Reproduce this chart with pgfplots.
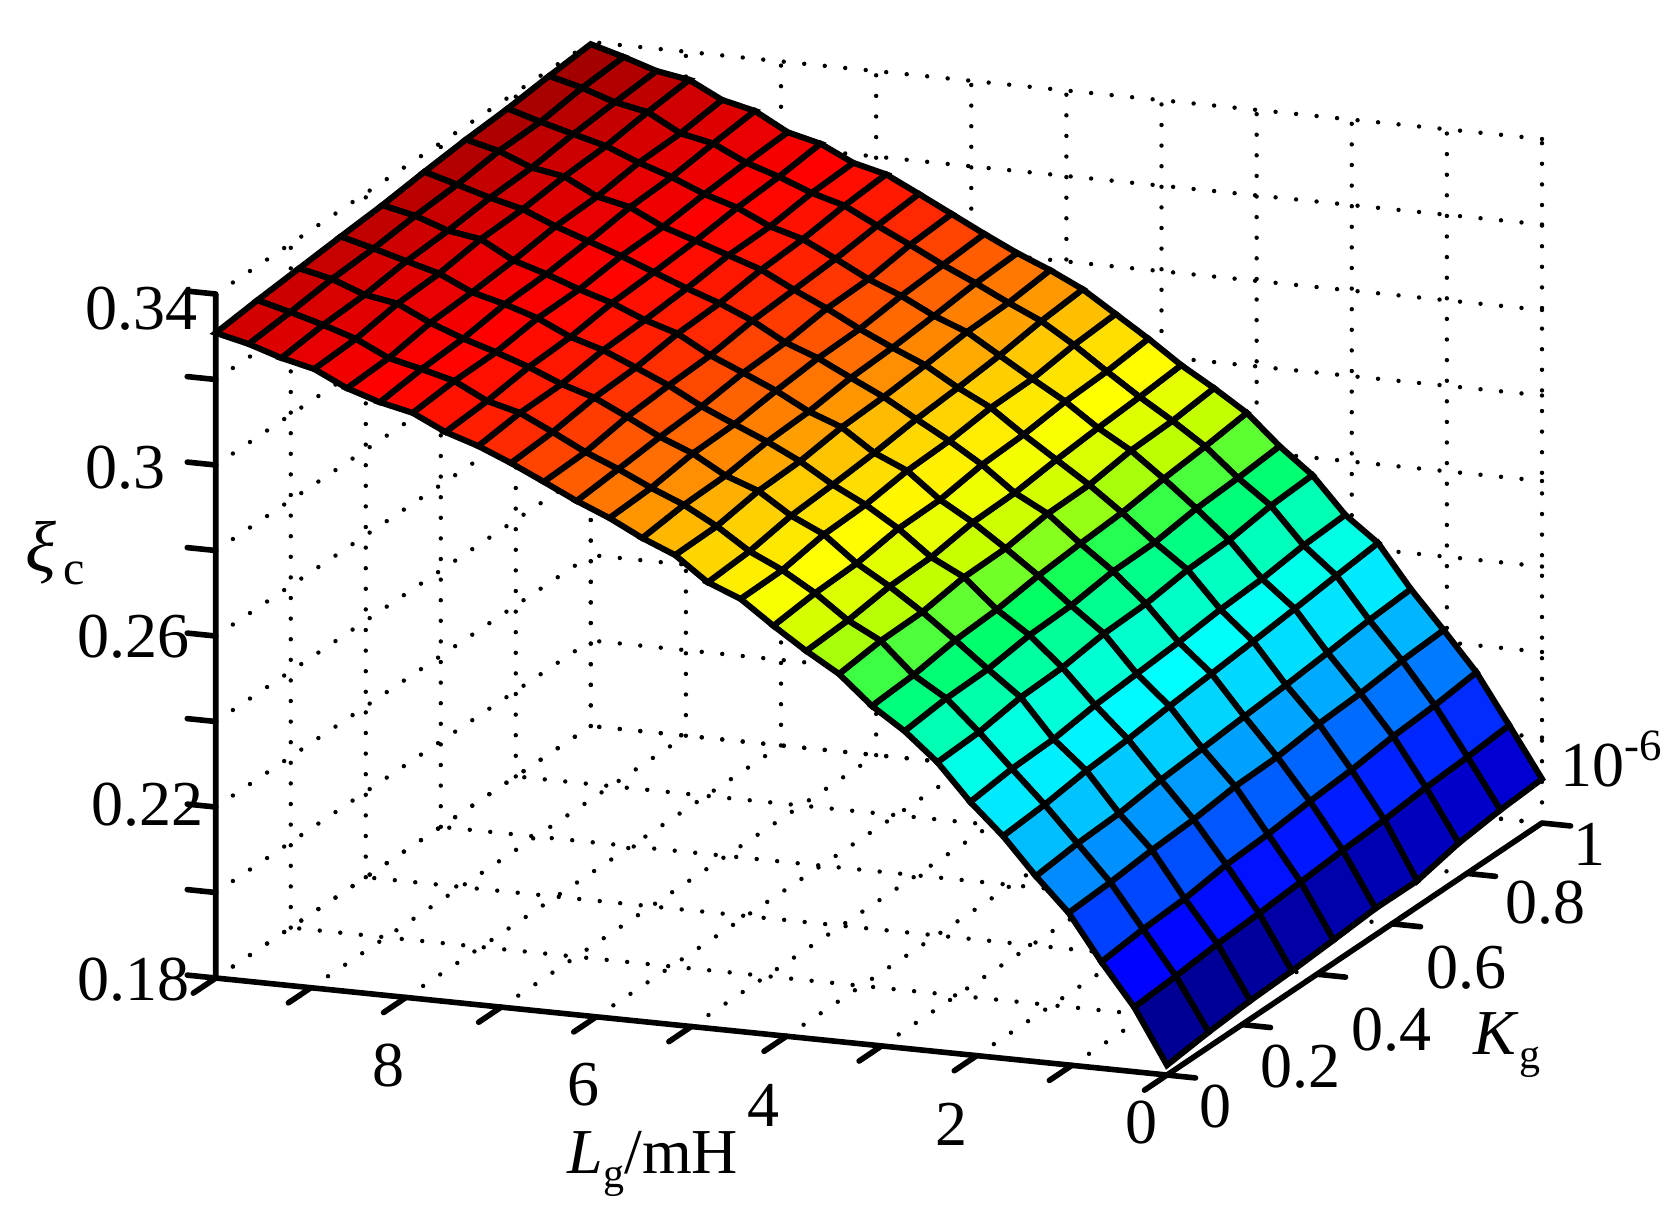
\documentclass[border=0pt]{standalone}
\usepackage{fontspec}
\setmainfont{Liberation Serif}
\usepackage{pgfplots}
\pgfplotsset{compat=1.18}
\usetikzlibrary{calc}
\newcommand{\tl}[3]{\makebox[0pt]{\hspace{\dimexpr 2\dimexpr #1pt\relax\relax}\raisebox{#2pt}{#3}}}
\begin{document}
\begin{tikzpicture}
\begin{axis}[
  x={(23.78pt,-2.425pt)}, y={(93.75pt,63pt)}, z={(0pt,1068.75pt)},
  x dir=reverse,
  xmin=0,xmax=10,ymin=0,ymax=1,zmin=0.18,zmax=0.34,
  clip=false,
  axis line style={draw=none},
  xtick={0,1,...,10},
  xticklabels={\tl{-6.4}{-11.8}{0},,\tl{-6.4}{-17.1}{2},,\tl{-5.7}{-17.2}{4},,\tl{-3.3}{-16.8}{6},,\tl{-4.3}{-16.9}{8},,},
  ytick={0,0.2,0.4,0.6,0.8,1},
  yticklabels={\tl{12.1}{-7.8}{0},\tl{14.7}{-10.2}{0.2},\tl{18.5}{-13.7}{0.4},\tl{18.5}{-10.8}{0.6},\tl{19.5}{-7.2}{0.8},\tl{11.8}{-5.1}{1}},
  ztick={0.18,0.20,0.22,0.24,0.26,0.28,0.30,0.32,0.34},
  zticklabels={\tl{-20.6}{-0.2}{0.18},,\tl{-17.1}{0.8}{0.22},,\tl{-20.6}{0}{0.26},,\tl{-22.5}{-0.5}{0.3},,\tl{-18.6}{-3.5}{0.34}},
  scaled ticks=false,
  tick pos=left,
  major tick length=0pt,
  tick style={draw=none},
  tick label style={font=\fontsize{16}{18}\selectfont,anchor=center,text height=10.8pt,text depth=0pt,inner sep=0pt},
  grid=major,
  major grid style={black,line width=1.1pt,line cap=round,dash pattern=on 0pt off 5.15pt},
  colormap={matjet}{rgb255=(0,0,130) rgb255=(0,0,150) rgb255=(0,0,255) rgb255=(0,60,255) rgb255=(0,140,255) rgb255=(0,200,255) rgb255=(0,255,255) rgb255=(0,255,190) rgb255=(0,255,100) rgb255=(190,255,0) rgb255=(255,255,0) rgb255=(255,200,0) rgb255=(255,110,0) rgb255=(255,40,0) rgb255=(255,0,0) rgb255=(215,0,0) rgb255=(150,0,0)},
  point meta min=0.18, point meta max=0.34,
  xlabel={\textit{L}\raisebox{-0.22em}{\fontsize{10.5}{12}\selectfont g}/mH},
  ylabel={\textit{K}\raisebox{-0.22em}{\fontsize{10.5}{12}\selectfont g}},
  label style={font=\fontsize{16}{18}\selectfont,rotate=0,anchor=center},
  xlabel style={at={(axis cs:0,0,0.18)},xshift=-128.5pt,yshift=-22.25pt},
  ylabel style={at={(axis cs:0,0,0.18)},xshift=85pt,yshift=7.5pt},
]
\addplot3[
  surf, shader=faceted, faceted color=black, line width=1.5pt, z buffer=sort, mesh/ordering=y varies,
] coordinates {
(10.000,0.000,.3309)(10.000,0.111,.3320)(10.000,0.222,.3329)(10.000,0.333,.3338)(10.000,0.444,.3346)(10.000,0.556,.3358)(10.000,0.667,.3368)(10.000,0.778,.3375)(10.000,0.889,.3386)(10.000,1.000,.3395)

(9.655,0.000,.3291)(9.655,0.111,.3300)(9.655,0.222,.3312)(9.655,0.333,.3318)(9.655,0.444,.3329)(9.655,0.556,.3336)(9.655,0.667,.3349)(9.655,0.778,.3352)(9.655,0.889,.3366)(9.655,1.000,.3373)

(9.310,0.000,.3266)(9.310,0.111,.3278)(9.310,0.222,.3283)(9.310,0.333,.3296)(9.310,0.444,.3302)(9.310,0.556,.3313)(9.310,0.667,.3318)(9.310,0.778,.3331)(9.310,0.889,.3340)(9.310,1.000,.3348)

(8.966,0.000,.3248)(8.966,0.111,.3253)(8.966,0.222,.3270)(8.966,0.333,.3275)(8.966,0.444,.3290)(8.966,0.556,.3294)(8.966,0.667,.3305)(8.966,0.778,.3311)(8.966,0.889,.3325)(8.966,1.000,.3335)

(8.621,0.000,.3211)(8.621,0.111,.3216)(8.621,0.222,.3233)(8.621,0.333,.3239)(8.621,0.444,.3248)(8.621,0.556,.3262)(8.621,0.667,.3266)(8.621,0.778,.3280)(8.621,0.889,.3283)(8.621,1.000,.3296)

(8.276,0.000,.3186)(8.276,0.111,.3198)(8.276,0.222,.3204)(8.276,0.333,.3219)(8.276,0.444,.3224)(8.276,0.556,.3235)(8.276,0.667,.3249)(8.276,0.778,.3254)(8.276,0.889,.3267)(8.276,1.000,.3278)

(7.931,0.000,.3169)(7.931,0.111,.3178)(7.931,0.222,.3180)(7.931,0.333,.3194)(7.931,0.444,.3196)(7.931,0.556,.3208)(7.931,0.667,.3211)(7.931,0.778,.3222)(7.931,0.889,.3230)(7.931,1.000,.3236)

(7.586,0.000,.3132)(7.586,0.111,.3139)(7.586,0.222,.3153)(7.586,0.333,.3158)(7.586,0.444,.3172)(7.586,0.556,.3178)(7.586,0.667,.3186)(7.586,0.778,.3198)(7.586,0.889,.3205)(7.586,1.000,.3217)

(7.241,0.000,.3107)(7.241,0.111,.3119)(7.241,0.222,.3121)(7.241,0.333,.3135)(7.241,0.444,.3140)(7.241,0.556,.3148)(7.241,0.667,.3160)(7.241,0.778,.3162)(7.241,0.889,.3175)(7.241,1.000,.3180)

(6.897,0.000,.3075)(6.897,0.111,.3082)(6.897,0.222,.3097)(6.897,0.333,.3102)(6.897,0.444,.3116)(6.897,0.556,.3121)(6.897,0.667,.3134)(6.897,0.778,.3140)(6.897,0.889,.3153)(6.897,1.000,.3161)

(6.552,0.000,.3039)(6.552,0.111,.3043)(6.552,0.222,.3060)(6.552,0.333,.3068)(6.552,0.444,.3073)(6.552,0.556,.3088)(6.552,0.667,.3095)(6.552,0.778,.3102)(6.552,0.889,.3114)(6.552,1.000,.3123)

(6.207,0.000,.3002)(6.207,0.111,.3011)(6.207,0.222,.3021)(6.207,0.333,.3027)(6.207,0.444,.3040)(6.207,0.556,.3045)(6.207,0.667,.3059)(6.207,0.778,.3062)(6.207,0.889,.3077)(6.207,1.000,.3084)

(5.862,0.000,.2970)(5.862,0.111,.2975)(5.862,0.222,.2990)(5.862,0.333,.2993)(5.862,0.444,.3006)(5.862,0.556,.3016)(5.862,0.667,.3019)(5.862,0.778,.3031)(5.862,0.889,.3038)(5.862,1.000,.3045)

(5.517,0.000,.2931)(5.517,0.111,.2943)(5.517,0.222,.2946)(5.517,0.333,.2960)(5.517,0.444,.2965)(5.517,0.556,.2978)(5.517,0.667,.2983)(5.517,0.778,.2992)(5.517,0.889,.3003)(5.517,1.000,.3008)

(5.172,0.000,.2899)(5.172,0.111,.2901)(5.172,0.222,.2918)(5.172,0.333,.2922)(5.172,0.444,.2936)(5.172,0.556,.2941)(5.172,0.667,.2950)(5.172,0.778,.2962)(5.172,0.889,.2965)(5.172,1.000,.2976)

(4.828,0.000,.2843)(4.828,0.111,.2850)(4.828,0.222,.2868)(4.828,0.333,.2875)(4.828,0.444,.2884)(4.828,0.556,.2897)(4.828,0.667,.2905)(4.828,0.778,.2915)(4.828,0.889,.2930)(4.828,1.000,.2939)

(4.483,0.000,.2812)(4.483,0.111,.2814)(4.483,0.222,.2832)(4.483,0.333,.2836)(4.483,0.444,.2850)(4.483,0.556,.2854)(4.483,0.667,.2866)(4.483,0.778,.2868)(4.483,0.889,.2882)(4.483,1.000,.2889)

(4.138,0.000,.2757)(4.138,0.111,.2768)(4.138,0.222,.2772)(4.138,0.333,.2788)(4.138,0.444,.2790)(4.138,0.556,.2806)(4.138,0.667,.2811)(4.138,0.778,.2823)(4.138,0.889,.2828)(4.138,1.000,.2839)

(3.793,0.000,.2706)(3.793,0.111,.2712)(3.793,0.222,.2726)(3.793,0.333,.2729)(3.793,0.444,.2745)(3.793,0.556,.2748)(3.793,0.667,.2760)(3.793,0.778,.2769)(3.793,0.889,.2776)(3.793,1.000,.2785)

(3.448,0.000,.2660)(3.448,0.111,.2672)(3.448,0.222,.2674)(3.448,0.333,.2690)(3.448,0.444,.2692)(3.448,0.556,.2707)(3.448,0.667,.2709)(3.448,0.778,.2724)(3.448,0.889,.2728)(3.448,1.000,.2739)

(3.103,0.000,.2593)(3.103,0.111,.2600)(3.103,0.222,.2616)(3.103,0.333,.2622)(3.103,0.444,.2636)(3.103,0.556,.2645)(3.103,0.667,.2652)(3.103,0.778,.2666)(3.103,0.889,.2676)(3.103,1.000,.2689)

(2.759,0.000,.2542)(2.759,0.111,.2553)(2.759,0.222,.2556)(2.759,0.333,.2570)(2.759,0.444,.2574)(2.759,0.556,.2588)(2.759,0.667,.2590)(2.759,0.778,.2604)(2.759,0.889,.2610)(2.759,1.000,.2619)

(2.414,0.000,.2477)(2.414,0.111,.2482)(2.414,0.222,.2498)(2.414,0.333,.2502)(2.414,0.444,.2516)(2.414,0.556,.2520)(2.414,0.667,.2534)(2.414,0.778,.2538)(2.414,0.889,.2553)(2.414,1.000,.2559)

(2.069,0.000,.2392)(2.069,0.111,.2404)(2.069,0.222,.2408)(2.069,0.333,.2422)(2.069,0.444,.2430)(2.069,0.556,.2438)(2.069,0.667,.2449)(2.069,0.778,.2455)(2.069,0.889,.2468)(2.069,1.000,.2474)

(1.724,0.000,.2320)(1.724,0.111,.2328)(1.724,0.222,.2342)(1.724,0.333,.2350)(1.724,0.444,.2362)(1.724,0.556,.2372)(1.724,0.667,.2382)(1.724,0.778,.2393)(1.724,0.889,.2405)(1.724,1.000,.2416)

(1.379,0.000,.2234)(1.379,0.111,.2245)(1.379,0.222,.2250)(1.379,0.333,.2263)(1.379,0.444,.2271)(1.379,0.556,.2280)(1.379,0.667,.2288)(1.379,0.778,.2298)(1.379,0.889,.2309)(1.379,1.000,.2316)

(1.034,0.000,.2156)(1.034,0.111,.2162)(1.034,0.222,.2172)(1.034,0.333,.2178)(1.034,0.444,.2190)(1.034,0.556,.2193)(1.034,0.667,.2205)(1.034,0.778,.2211)(1.034,0.889,.2222)(1.034,1.000,.2228)

(0.690,0.000,.2049)(0.690,0.111,.2060)(0.690,0.222,.2066)(0.690,0.333,.2080)(0.690,0.444,.2086)(0.690,0.556,.2097)(0.690,0.667,.2105)(0.690,0.778,.2118)(0.690,0.889,.2125)(0.690,1.000,.2137)

(0.345,0.000,.1951)(0.345,0.111,.1958)(0.345,0.222,.1968)(0.345,0.333,.1974)(0.345,0.444,.1982)(0.345,0.556,.1990)(0.345,0.667,.1996)(0.345,0.778,.2006)(0.345,0.889,.2012)(0.345,1.000,.2021)

(0.000,0.000,.1823)(0.000,0.111,.1835)(0.000,0.222,.1843)(0.000,0.333,.1847)(0.000,0.444,.1854)(0.000,0.556,.1862)(0.000,0.667,.1861)(0.000,0.778,.1884)(0.000,0.889,.1896)(0.000,1.000,.1903)
};
% solid front edges of the box
\addplot3[black,line width=1.4pt] coordinates {(10,0,0.34) (10,0,0.18) (0,0,0.18) (0,1,0.18)};
% tick marks: x ticks run along -y, y ticks along -x, z ticks along +x
\addplot3[black,line width=1.4pt,line cap=round,unbounded coords=jump] coordinates {
(0,0,.18)(0,-.06,.18)(nan,nan,nan)(1,0,.18)(1,-.06,.18)(nan,nan,nan)(2,0,.18)(2,-.06,.18)(nan,nan,nan)(3,0,.18)(3,-.06,.18)(nan,nan,nan)(4,0,.18)(4,-.06,.18)(nan,nan,nan)(5,0,.18)(5,-.06,.18)(nan,nan,nan)(6,0,.18)(6,-.06,.18)(nan,nan,nan)(7,0,.18)(7,-.06,.18)(nan,nan,nan)(8,0,.18)(8,-.06,.18)(nan,nan,nan)(9,0,.18)(9,-.06,.18)(nan,nan,nan)(10,0,.18)(10,-.06,.18)(nan,nan,nan)
(0,0,.18)(-.3,0,.18)(nan,nan,nan)(0,.2,.18)(-.3,.2,.18)(nan,nan,nan)(0,.4,.18)(-.3,.4,.18)(nan,nan,nan)(0,.6,.18)(-.3,.6,.18)(nan,nan,nan)(0,.8,.18)(-.3,.8,.18)(nan,nan,nan)(0,1,.18)(-.3,1,.18)(nan,nan,nan)
(10,0,.18)(10.3,0,.18)(nan,nan,nan)(10,0,.20)(10.3,0,.20)(nan,nan,nan)(10,0,.22)(10.3,0,.22)(nan,nan,nan)(10,0,.24)(10.3,0,.24)(nan,nan,nan)(10,0,.26)(10.3,0,.26)(nan,nan,nan)(10,0,.28)(10.3,0,.28)(nan,nan,nan)(10,0,.30)(10.3,0,.30)(nan,nan,nan)(10,0,.32)(10.3,0,.32)(nan,nan,nan)(10,0,.34)(10.3,0,.34)
};
\coordinate (O) at (axis cs:0,0,0.18);
\node[anchor=base west,font=\fontsize{16}{18}\selectfont,inner sep=0pt] at ([shift={(4.5pt,9.25pt)}]axis cs:0,1,0.18) {10\textsuperscript{-6}};
\node[anchor=center,font=\fontsize{18}{20}\selectfont,inner sep=0pt] at ([shift={(-281.5pt,130.5pt)}]axis cs:0,0,0.18) {\textit{ξ}};
\node[anchor=center,font=\fontsize{12}{14}\selectfont,inner sep=0pt] at ([shift={(-273.2pt,125.5pt)}]axis cs:0,0,0.18) {c};
\end{axis}
\pgfresetboundingbox
\path[use as bounding box] ($(O)+(-291.75pt,-35pt)$) rectangle ($(O)+(128.25pt,268.75pt)$);
\end{tikzpicture}
\end{document}
